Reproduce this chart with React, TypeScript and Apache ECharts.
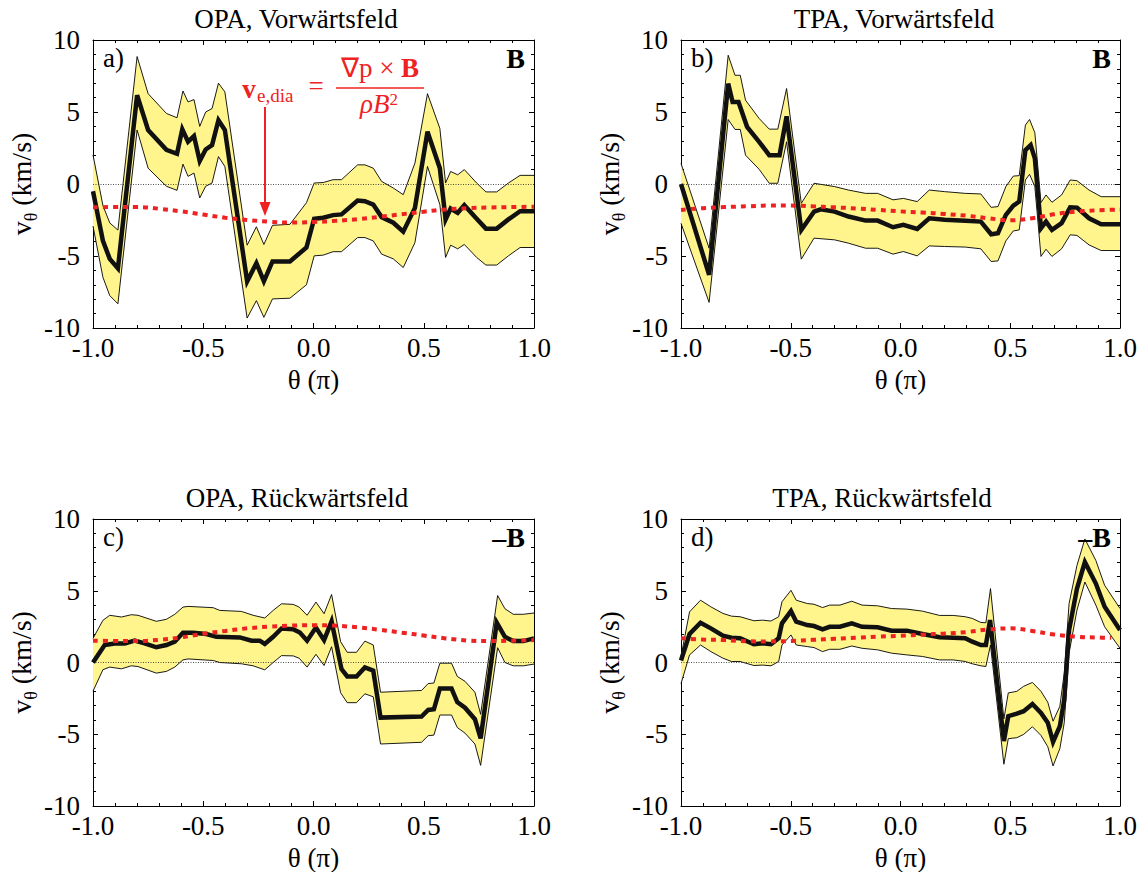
import React, { useEffect, useRef } from "react";
import * as echarts from "echarts";

// ---------- data (θ in units of π, v_θ in km/s) ----------
const aMean = [[-1.0,-0.5],[-0.955,-3.95],[-0.924,-5.2],[-0.887,-5.86],[-0.8,6.16],[-0.75,3.75],[-0.667,2.37],[-0.619,2.1],[-0.595,3.8],[-0.569,2.94],[-0.542,3.33],[-0.516,1.6],[-0.489,2.4],[-0.46,2.7],[-0.431,4.43],[-0.402,3.75],[-0.301,-6.76],[-0.259,-5.5],[-0.225,-6.76],[-0.186,-5.38],[-0.107,-5.38],[-0.032,-4.41],[0.003,-2.41],[0.044,-2.34],[0.089,-2.16],[0.127,-2.11],[0.2,-1.15],[0.233,-1.2],[0.271,-1.43],[0.309,-2.3],[0.362,-2.69],[0.407,-3.31],[0.46,-1.66],[0.517,3.63],[0.573,1.1],[0.599,-2.46],[0.622,-1.7],[0.654,-2.0],[0.684,-1.47],[0.74,-2.41],[0.782,-3.1],[0.831,-3.1],[0.884,-2.46],[0.937,-1.89],[1.0,-1.89]];
const aUpper = [[-1.0,2.02],[-0.955,-1.5],[-0.924,-2.7],[-0.887,-3.2],[-0.8,8.85],[-0.75,6.27],[-0.667,4.9],[-0.619,4.6],[-0.592,6.46],[-0.569,5.7],[-0.542,5.86],[-0.516,4.0],[-0.489,5.0],[-0.46,5.24],[-0.431,7.0],[-0.402,6.4],[-0.301,-4.25],[-0.259,-2.97],[-0.225,-4.2],[-0.186,-2.87],[-0.107,-2.8],[-0.032,-1.3],[0.003,0.07],[0.044,0.1],[0.089,0.3],[0.127,0.3],[0.2,1.33],[0.233,1.33],[0.271,1.1],[0.309,0.18],[0.362,-0.28],[0.407,-0.74],[0.46,1.45],[0.517,6.27],[0.573,3.86],[0.599,0.07],[0.622,0.87],[0.654,0.64],[0.684,1.0],[0.74,0.07],[0.782,-0.55],[0.831,-0.55],[0.884,0.07],[0.937,0.6],[1.0,0.6]];
const aLower = [[-1.0,-2.92],[-0.955,-6.48],[-0.924,-7.75],[-0.887,-8.32],[-0.8,3.75],[-0.75,1.1],[-0.667,-0.16],[-0.619,-0.44],[-0.592,1.38],[-0.569,0.53],[-0.542,0.76],[-0.516,-0.97],[-0.489,-0.16],[-0.46,0.07],[-0.431,1.9],[-0.402,1.22],[-0.301,-9.31],[-0.259,-8.1],[-0.225,-9.26],[-0.186,-7.98],[-0.107,-7.93],[-0.032,-7.0],[0.003,-4.99],[0.044,-4.94],[0.089,-4.7],[0.127,-4.7],[0.2,-3.72],[0.233,-3.72],[0.271,-3.95],[0.309,-4.87],[0.362,-5.2],[0.407,-5.8],[0.46,-4.07],[0.517,1.22],[0.573,-1.43],[0.599,-5.1],[0.622,-4.25],[0.654,-4.5],[0.684,-4.2],[0.74,-5.1],[0.782,-5.63],[0.831,-5.63],[0.884,-4.99],[0.937,-4.41],[1.0,-4.41]];
const aDia = [[-1,-1.62],[-0.9,-1.6],[-0.8,-1.6],[-0.7,-1.72],[-0.6,-1.9],[-0.5,-2.12],[-0.4,-2.34],[-0.3,-2.5],[-0.2,-2.62],[-0.1,-2.68],[0,-2.64],[0.1,-2.56],[0.2,-2.44],[0.3,-2.28],[0.4,-2.1],[0.5,-1.92],[0.6,-1.77],[0.7,-1.68],[0.8,-1.63],[0.9,-1.6],[1,-1.58]];

const bMean = [[-1,0],[-0.872,-6.3],[-0.785,6.97],[-0.765,5.7],[-0.738,5.7],[-0.699,3.97],[-0.644,2.93],[-0.598,2.0],[-0.551,2.0],[-0.519,4.7],[-0.452,-3.19],[-0.394,-1.92],[-0.363,-1.76],[-0.3,-1.92],[-0.237,-2.26],[-0.159,-2.54],[-0.104,-2.54],[-0.034,-3.0],[0.013,-2.84],[0.076,-3.12],[0.131,-2.38],[0.201,-2.49],[0.295,-2.56],[0.366,-2.61],[0.413,-3.49],[0.444,-3.42],[0.48,-2.15],[0.514,-1.5],[0.541,-1.22],[0.569,2.36],[0.593,2.7],[0.612,1.78],[0.64,-3.07],[0.663,-2.61],[0.69,-3.19],[0.734,-2.72],[0.773,-1.62],[0.804,-1.64],[0.859,-2.38],[0.914,-2.79],[1,-2.79]];
const bUpper = [[-1,1.43],[-0.872,-4.46],[-0.785,8.94],[-0.754,7.55],[-0.73,7.55],[-0.706,5.82],[-0.644,4.55],[-0.598,3.81],[-0.559,3.81],[-0.519,6.63],[-0.452,-1.34],[-0.394,0.05],[-0.3,-0.18],[-0.237,-0.42],[-0.159,-0.65],[-0.104,-0.65],[-0.034,-1.1],[0.013,-1.0],[0.076,-1.22],[0.131,-0.42],[0.201,-0.53],[0.295,-0.65],[0.366,-0.69],[0.413,-1.62],[0.444,-1.57],[0.48,-0.18],[0.514,0.55],[0.541,0.58],[0.569,4.09],[0.588,4.48],[0.612,3.56],[0.64,-1.29],[0.663,-0.76],[0.69,-1.27],[0.734,-0.76],[0.773,0.28],[0.804,0.23],[0.859,-0.42],[0.914,-0.88],[1,-0.88]];
const bLower = [[-1,-2.73],[-0.872,-8.22],[-0.785,4.48],[-0.754,3.79],[-0.73,3.79],[-0.706,2.0],[-0.644,1.02],[-0.598,0.05],[-0.559,0.05],[-0.519,2.93],[-0.452,-5.22],[-0.394,-3.76],[-0.3,-3.88],[-0.237,-4.11],[-0.159,-4.46],[-0.104,-4.46],[-0.034,-4.87],[0.013,-4.69],[0.076,-4.99],[0.131,-4.3],[0.201,-4.34],[0.295,-4.38],[0.366,-4.5],[0.413,-5.38],[0.444,-5.34],[0.48,-3.95],[0.514,-3.26],[0.541,-3.19],[0.569,0.28],[0.588,0.67],[0.612,-0.18],[0.64,-5.03],[0.663,-4.53],[0.69,-5.03],[0.734,-4.5],[0.773,-3.53],[0.804,-3.57],[0.859,-4.23],[0.914,-4.62],[1,-4.62]];
const bDia = [[-1,-1.8],[-0.9,-1.68],[-0.8,-1.6],[-0.7,-1.55],[-0.6,-1.5],[-0.5,-1.5],[-0.4,-1.55],[-0.3,-1.62],[-0.2,-1.7],[-0.1,-1.8],[0,-1.9],[0.1,-1.98],[0.2,-2.08],[0.3,-2.2],[0.4,-2.38],[0.5,-2.52],[0.6,-2.38],[0.7,-2.1],[0.8,-1.92],[0.9,-1.82],[1,-1.78]];

const cMean = [[-1,0],[-0.947,1.22],[-0.902,1.33],[-0.856,1.33],[-0.811,1.52],[-0.766,1.33],[-0.713,1.06],[-0.667,1.22],[-0.629,1.45],[-0.592,2.07],[-0.546,2.07],[-0.486,1.98],[-0.44,1.79],[-0.334,1.75],[-0.281,1.52],[-0.244,1.52],[-0.221,1.29],[-0.183,1.79],[-0.145,2.37],[-0.092,2.32],[-0.062,2.09],[-0.029,1.52],[0.011,2.44],[0.048,1.56],[0.082,2.87],[0.127,-0.46],[0.153,-0.97],[0.195,-0.97],[0.233,-0.34],[0.271,-0.57],[0.304,-3.84],[0.49,-3.77],[0.52,-3.31],[0.546,-3.26],[0.573,-1.82],[0.626,-1.82],[0.652,-2.76],[0.687,-3.15],[0.732,-3.95],[0.758,-5.29],[0.831,2.78],[0.868,1.79],[0.906,1.49],[0.952,1.49],[1,1.68]];
const cUpper = [[-1,1.68],[-0.955,2.94],[-0.924,3.29],[-0.871,3.17],[-0.826,3.33],[-0.796,3.29],[-0.713,2.87],[-0.667,3.01],[-0.629,3.36],[-0.592,3.86],[-0.569,3.91],[-0.455,3.82],[-0.425,3.63],[-0.327,3.56],[-0.274,3.29],[-0.221,3.1],[-0.183,3.63],[-0.145,4.09],[-0.092,4.05],[-0.065,3.86],[-0.029,3.29],[0.011,4.21],[0.048,3.4],[0.082,4.74],[0.123,1.45],[0.153,0.71],[0.195,0.71],[0.233,1.49],[0.271,1.22],[0.304,-2.07],[0.49,-1.95],[0.52,-1.47],[0.546,-1.43],[0.573,-0.05],[0.626,-0.05],[0.652,-0.97],[0.687,-1.31],[0.732,-2.07],[0.758,-3.61],[0.835,4.67],[0.868,3.75],[0.906,3.36],[0.952,3.36],[1,3.45]];
const cLower = [[-1,-2.0],[-0.955,-0.5],[-0.924,-0.32],[-0.871,-0.44],[-0.826,-0.23],[-0.796,-0.28],[-0.713,-0.74],[-0.667,-0.62],[-0.629,-0.32],[-0.592,0.18],[-0.569,0.25],[-0.455,0.14],[-0.425,0],[-0.327,-0.09],[-0.274,-0.23],[-0.221,-0.51],[-0.183,0],[-0.145,0.48],[-0.092,0.46],[-0.065,0.3],[-0.029,-0.32],[0.011,0.57],[0.048,-0.21],[0.082,1.1],[0.123,-2.11],[0.153,-2.8],[0.195,-2.8],[0.233,-2.18],[0.271,-2.39],[0.304,-5.68],[0.49,-5.56],[0.52,-5.1],[0.546,-5.06],[0.573,-3.66],[0.626,-3.66],[0.652,-4.53],[0.687,-4.92],[0.732,-5.68],[0.758,-7.17],[0.835,1.03],[0.868,0],[0.906,-0.23],[0.952,-0.23],[1,-0.11]];
const cDia = [[-1,1.52],[-0.9,1.5],[-0.8,1.5],[-0.7,1.58],[-0.6,1.75],[-0.5,2.0],[-0.4,2.2],[-0.3,2.38],[-0.2,2.5],[-0.1,2.57],[0,2.6],[0.1,2.56],[0.2,2.45],[0.3,2.28],[0.4,2.08],[0.5,1.88],[0.6,1.68],[0.7,1.53],[0.8,1.49],[0.9,1.52],[1,1.56]];

const dMean = [[-1,0.14],[-0.961,1.99],[-0.911,2.77],[-0.864,2.38],[-0.809,1.87],[-0.77,1.73],[-0.731,1.69],[-0.668,1.27],[-0.629,1.34],[-0.59,1.27],[-0.555,1.69],[-0.54,2.73],[-0.499,3.58],[-0.475,2.84],[-0.425,2.61],[-0.394,2.54],[-0.355,2.31],[-0.323,2.49],[-0.276,2.49],[-0.222,2.73],[-0.175,2.49],[-0.104,2.45],[-0.041,2.22],[0.029,2.22],[0.1,1.99],[0.178,1.76],[0.24,1.73],[0.295,1.69],[0.327,1.45],[0.366,1.22],[0.389,1.22],[0.408,2.96],[0.471,-5.47],[0.491,-3.74],[0.53,-3.56],[0.561,-3.39],[0.601,-2.89],[0.64,-3.51],[0.671,-4.2],[0.695,-5.54],[0.726,-4.43],[0.746,-2.59],[0.768,2.26],[0.804,5.15],[0.84,7.0],[0.89,5.5],[0.93,3.88],[1,2.26]];
const dUpper = [[-1,0.42],[-0.961,3.53],[-0.911,4.34],[-0.864,3.88],[-0.809,3.42],[-0.77,3.23],[-0.731,3.19],[-0.668,2.91],[-0.629,2.95],[-0.59,2.89],[-0.555,3.19],[-0.54,4.23],[-0.499,5.03],[-0.475,4.34],[-0.425,4.11],[-0.394,4.06],[-0.355,3.83],[-0.323,4.0],[-0.276,4.0],[-0.222,4.27],[-0.175,4.0],[-0.104,3.95],[-0.041,3.76],[0.029,3.72],[0.1,3.58],[0.178,3.28],[0.24,3.28],[0.295,3.19],[0.327,3.07],[0.366,2.79],[0.389,2.77],[0.41,5.15],[0.471,-3.93],[0.491,-2.12],[0.53,-2.01],[0.561,-1.66],[0.601,-1.39],[0.64,-2.01],[0.671,-2.77],[0.695,-4.09],[0.726,-3.05],[0.746,-0.74],[0.768,4.11],[0.804,6.77],[0.84,8.61],[0.89,7.11],[0.93,5.38],[1,3.76]];
const dLower = [[-1,-1.48],[-0.961,0.53],[-0.911,1.22],[-0.864,0.76],[-0.809,0.3],[-0.77,0.07],[-0.731,0.07],[-0.668,-0.21],[-0.629,-0.18],[-0.59,-0.23],[-0.555,0.07],[-0.54,1.22],[-0.499,1.92],[-0.475,1.22],[-0.425,1.11],[-0.394,1.04],[-0.355,0.76],[-0.323,0.92],[-0.276,0.92],[-0.222,1.15],[-0.175,0.99],[-0.104,0.88],[-0.041,0.65],[0.029,0.53],[0.1,0.42],[0.178,0.18],[0.24,0.18],[0.295,0.07],[0.327,-0.09],[0.366,-0.23],[0.389,-0.28],[0.41,1.22],[0.471,-7.09],[0.491,-5.31],[0.53,-5.24],[0.561,-5.01],[0.601,-4.48],[0.64,-5.08],[0.671,-5.87],[0.695,-7.21],[0.726,-6.0],[0.746,-4.2],[0.768,0.65],[0.804,3.65],[0.84,5.61],[0.89,4.0],[0.93,2.49],[1,0.99]];
const dDia = [[-1,1.69],[-0.9,1.6],[-0.8,1.56],[-0.7,1.48],[-0.6,1.47],[-0.5,1.5],[-0.4,1.58],[-0.3,1.65],[-0.2,1.72],[-0.1,1.8],[0,1.86],[0.1,1.94],[0.2,2.02],[0.3,2.12],[0.4,2.3],[0.5,2.38],[0.6,2.2],[0.7,1.95],[0.8,1.8],[0.9,1.74],[0.96,1.72]];

const panelTitles = ["OPA, Vorwärtsfeld", "TPA, Vorwärtsfeld", "OPA, Rückwärtsfeld", "TPA, Rückwärtsfeld"];
const panelTags = ["a)", "b)", "c)", "d)"];
const fieldTags = ["B", "B", "–B", "–B"];
const xTickLabels = ["-1.0", "-0.5", "0.0", "0.5", "1.0"];

// ---------- styling ----------
const FONT = "Liberation Serif";
const YELLOW = "#fff58c";
const RED = "#ee2222";
const INK = "#111111";

const GRIDS = [
  { left: 93, top: 40, width: 441, height: 288 },
  { left: 681, top: 40, width: 439, height: 288 },
  { left: 93, top: 519, width: 441, height: 288 },
  { left: 681, top: 519, width: 439, height: 288 },
];
const TITLE_X = [296, 894, 297, 882];

const PANELS = [
  { mean: aMean, upper: aUpper, lower: aLower, dia: aDia },
  { mean: bMean, upper: bUpper, lower: bLower, dia: bDia },
  { mean: cMean, upper: cUpper, lower: cLower, dia: cDia },
  { mean: dMean, upper: dUpper, lower: dLower, dia: dDia },
];

const axisLine = { show: true, onZero: false, lineStyle: { color: "#000", width: 1 } };
const tick = { show: true, inside: true, length: 5, lineStyle: { color: "#000", width: 1 } };
const minor = { show: true, splitNumber: 5, length: 3, lineStyle: { color: "#000", width: 1 } };

function buildXAxes(gi: number) {
  const base = {
    type: "value", gridIndex: gi, min: -1, max: 1, interval: 0.5,
    axisLine, axisTick: tick, minorTick: minor, splitLine: { show: false },
  };
  return [
    {
      ...base, position: "bottom",
      axisLabel: {
        show: true, margin: 6, fontFamily: FONT, fontSize: 27, color: "#000",
        showMinLabel: true, showMaxLabel: true,
        formatter: (v: number) => xTickLabels[Math.round((v + 1) / 0.5)] ?? v.toFixed(1),
      },
      name: "θ (π)", nameLocation: "middle", nameGap: 38,
      nameTextStyle: { fontFamily: FONT, fontSize: 27, color: "#000" },
    },
    { ...base, position: "top", axisLabel: { show: false } },
  ];
}

function buildYAxes(gi: number) {
  const base = {
    type: "value", gridIndex: gi, min: -10, max: 10, interval: 5,
    axisLine, axisTick: tick, minorTick: minor, splitLine: { show: false },
  };
  return [
    {
      ...base, position: "left",
      axisLabel: { show: true, margin: 13, fontFamily: FONT, fontSize: 27, color: "#000" },
      name: "{v|v}{s|θ}{v| (km/s)}", nameLocation: "middle", nameRotate: 90, nameGap: 50,
      nameTextStyle: {
        fontFamily: FONT,
        rich: {
          v: { fontFamily: FONT, fontSize: 28, lineHeight: 28, verticalAlign: "top", color: "#000" },
          s: { fontFamily: FONT, fontSize: 18, lineHeight: 18, verticalAlign: "top", padding: [15, 0, 0, 0], color: "#000" },
        },
      },
    },
    { ...base, position: "right", axisLabel: { show: false } },
  ];
}

function buildSeries(pi: number) {
  const p = PANELS[pi];
  const ax = { xAxisIndex: pi * 2, yAxisIndex: pi * 2 };
  return [
    {
      type: "custom", ...ax, z: 1, silent: true, data: [[0, 0]],
      renderItem: (_params: any, api: any) => {
        const pts = p.upper.map((d) => api.coord(d)).concat(p.lower.slice().reverse().map((d) => api.coord(d)));
        return { type: "polygon", shape: { points: pts }, style: { fill: YELLOW, stroke: "none" } };
      },
    },
    {
      type: "line", ...ax, z: 2, data: p.upper, symbol: "none", silent: true,
      lineStyle: { color: "#000", width: 0.9 },
      markLine: {
        silent: true, symbol: "none", label: { show: false },
        lineStyle: { color: "#222", width: 0.8, type: [1, 1.5] },
        data: [{ yAxis: 0 }],
      },
    },
    { type: "line", ...ax, z: 2, data: p.lower, symbol: "none", silent: true, lineStyle: { color: "#000", width: 0.9 } },
    { type: "line", ...ax, z: 3, data: p.mean, symbol: "none", silent: true, lineStyle: { color: INK, width: 4.5, join: "miter" } },
    {
      type: "line", ...ax, z: 4, data: p.dia, symbol: "none", silent: true, smooth: 0.4,
      lineStyle: { color: RED, width: 4, type: [5, 5], cap: "butt" },
    },
  ];
}

function txt(text: string, x: number, y: number, extra: any = {}) {
  return {
    type: "text", z: 100, silent: true,
    style: {
      text, x, y, fill: "#000", fontFamily: FONT, fontSize: 27,
      align: "center", verticalAlign: "middle", textAlign: "center", textVerticalAlign: "middle",
      ...extra,
    },
  };
}

function buildGraphics() {
  const els: any[] = [];
  GRIDS.forEach((g, i) => {
    const titleY = g.top - 21;
    els.push(txt(panelTitles[i], TITLE_X[i], titleY));
    els.push(txt(panelTags[i], g.left + 10, g.top + 17.5, { align: "left", textAlign: "left" }));
    els.push(txt(fieldTags[i], g.left + g.width - 9, g.top + 18, { align: "right", textAlign: "right", fontWeight: "bold", fontSize: 28 }));
  });
  // diamagnetic drift annotation (panel a)
  els.push(txt("v", 249, 89, { fill: RED, fontWeight: "bold" }));
  els.push(txt("e,dia", 257, 95, { fill: RED, fontSize: 19, align: "left", textAlign: "left" }));
  els.push(txt("=", 316, 86, { fill: RED }));
  els.push({
    type: "text", z: 100, silent: true,
    style: {
      text: "{n|∇p × }{b|B}", x: 380, y: 68, align: "center", verticalAlign: "middle", textAlign: "center", textVerticalAlign: "middle",
      fill: RED,
      rich: {
        n: { fontFamily: FONT, fontSize: 27, fill: RED },
        b: { fontFamily: FONT, fontSize: 27, fontWeight: "bold", fill: RED },
      },
    },
  });
  els.push({ type: "line", z: 100, silent: true, shape: { x1: 336, y1: 88, x2: 424, y2: 88 }, style: { stroke: RED, lineWidth: 1.3 } });
  els.push({
    type: "text", z: 100, silent: true,
    style: {
      text: "{i|ρB}{s|2}", x: 379, y: 104, align: "center", verticalAlign: "middle", textAlign: "center", textVerticalAlign: "middle",
      fill: RED,
      rich: {
        i: { fontFamily: FONT, fontSize: 27, fontStyle: "italic", lineHeight: 27, verticalAlign: "bottom", fill: RED },
        s: { fontFamily: FONT, fontSize: 17, lineHeight: 17, verticalAlign: "top", fill: RED },
      },
    },
  });
  els.push({ type: "line", z: 100, silent: true, shape: { x1: 265, y1: 107, x2: 265, y2: 204 }, style: { stroke: RED, lineWidth: 2 } });
  els.push({ type: "polygon", z: 100, silent: true, shape: { points: [[259.5, 202], [270.5, 202], [265, 216]] }, style: { fill: RED } });
  return els;
}

export default function App() {
  const ref = useRef<HTMLDivElement>(null);
  useEffect(() => {
    if (!ref.current) return;
    const chart = echarts.init(ref.current, null, { renderer: "svg" });
    const xAxis: any[] = [];
    const yAxis: any[] = [];
    const series: any[] = [];
    for (let i = 0; i < 4; i++) {
      xAxis.push(...buildXAxes(i));
      yAxis.push(...buildYAxes(i));
      series.push(...buildSeries(i));
    }
    chart.setOption({
      animation: false,
      backgroundColor: "#ffffff",
      textStyle: { fontFamily: FONT },
      grid: GRIDS.map((g) => ({ ...g, containLabel: false })),
      xAxis,
      yAxis,
      series,
      graphic: buildGraphics(),
    });
    return () => chart.dispose();
  }, []);
  return (
    <div
      ref={ref}
      style={{ position: "absolute", left: 0, top: 0, width: 1146, height: 872, background: "#fff" }}
    />
  );
}
